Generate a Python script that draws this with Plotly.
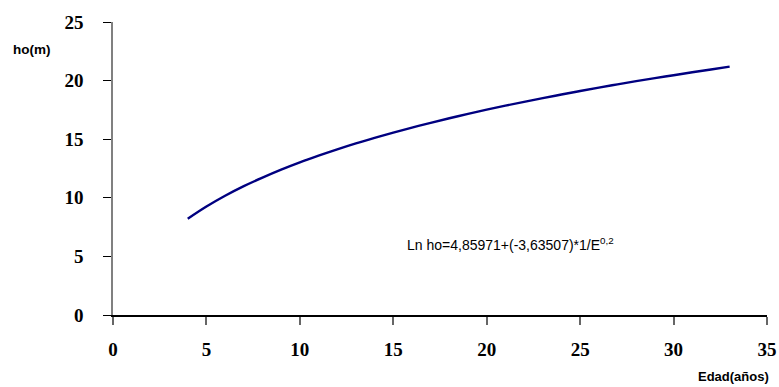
import plotly.graph_objects as go

edad = [4, 5, 6, 7, 8, 9, 10, 11, 12, 13, 14, 15, 16, 17, 18, 19, 20,
        21, 22, 23, 24, 25, 26, 27, 28, 29, 30, 31, 32, 33]
ho = [8.21, 9.25, 10.17, 10.99, 11.72, 12.40, 13.02, 13.59, 14.13, 14.64,
      15.11, 15.56, 15.99, 16.40, 16.79, 17.16, 17.52, 17.86, 18.19, 18.51,
      18.81, 19.11, 19.40, 19.68, 19.95, 20.21, 20.46, 20.71, 20.95, 21.19]
x_ticks = [0, 5, 10, 15, 20, 25, 30, 35]
y_ticks = [0, 5, 10, 15, 20, 25]

W_FIG, H_FIG = 779, 387
L, R, T, B = 113, 12, 22, 72

fig = go.Figure()
fig.add_trace(go.Scatter(x=edad, y=ho, mode="lines",
                         line=dict(color="#000080", width=2.4),
                         line_shape="spline", showlegend=False))

tickfont = dict(family="Liberation Serif", size=19, color="black", weight="bold")
sans = "Liberation Sans"
fig.update_layout(
    width=W_FIG, height=H_FIG,
    margin=dict(l=L, r=R, t=T, b=B, autoexpand=False),
    paper_bgcolor="white", plot_bgcolor="white",
    xaxis=dict(range=[0, 35], tickvals=x_ticks, showgrid=False, zeroline=False,
               showline=True, linecolor="black", linewidth=1.5,
               ticks="outside", ticklen=8, tickcolor="#666666", tickwidth=1.5,
               tickfont=tickfont, ticklabelstandoff=8),
    yaxis=dict(range=[0, 25], tickvals=y_ticks, showgrid=False, zeroline=False,
               showline=True, linecolor="#808080", linewidth=1.5,
               ticks="outside", ticklen=8, tickcolor="black", tickwidth=1.2,
               tickfont=tickfont, ticklabelstandoff=16),
    annotations=[
        dict(text="Ln ho=4,85971+(-3,63507)*1/E<sup>0,2</sup>", x=15.6, y=6.1,
             xref="x", yref="y", xanchor="left", yanchor="middle", showarrow=False,
             font=dict(family=sans, size=14, color="black")),
        dict(text="ho(m)", x=11, y=50, xref="paper", yref="paper",
             showarrow=False, xanchor="left", yanchor="middle",
             font=dict(family=sans, size=13.5, color="black", weight="bold")),
        dict(text="Edad(años)", x=771, y=386, xref="paper", yref="paper",
             showarrow=False, xanchor="right", yanchor="bottom",
             font=dict(family=sans, size=13, color="black", weight="bold")),
    ],
)
# convert pixel positions of the two axis titles to paper coords
PW, PH = W_FIG - L - R, H_FIG - T - B
for a in fig.layout.annotations[1:]:
    a.x = (a.x - L) / PW
    a.y = (H_FIG - B - a.y) / PH
fig.write_html("out.html",
               config={"displayModeBar": False},
               post_script="document.body.style.margin='0';document.body.style.overflow='hidden';")
